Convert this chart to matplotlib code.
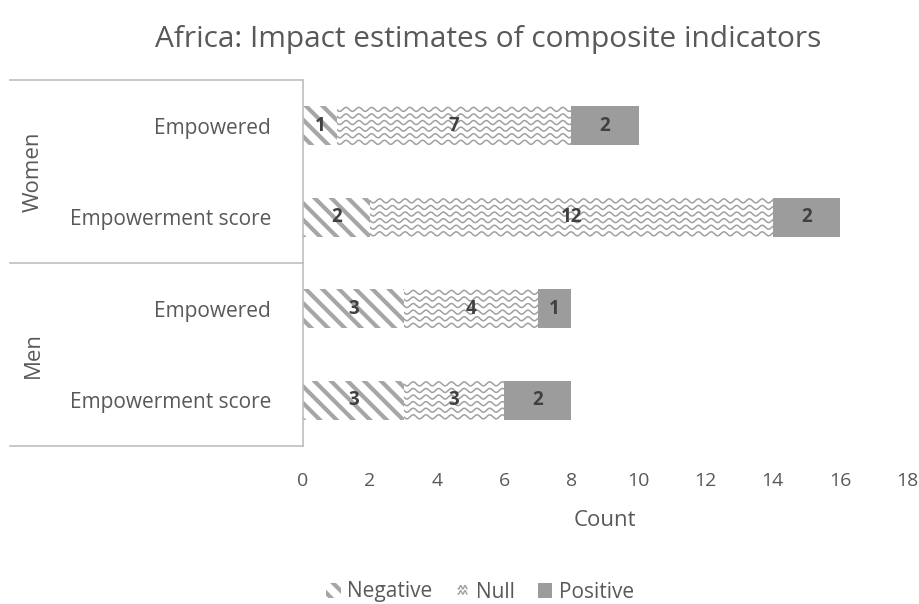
import numpy as np
import matplotlib
matplotlib.use("Agg")
import matplotlib.pyplot as plt
from matplotlib import transforms
from matplotlib.patches import Patch
from matplotlib.lines import Line2D
from matplotlib.legend_handler import HandlerBase

plt.rcParams['font.family'] = ['Open Sans', 'DejaVu Sans']
plt.rcParams['hatch.linewidth'] = 3.0

# Data
groups = ["Women", "Men"]
indicators = ["Empowered", "Empowerment score", "Empowered", "Empowerment score"]
negative = [1, 2, 3, 3]
null = [7, 12, 4, 3]
positive = [2, 2, 1, 2]
x_ticks = [0, 2, 4, 6, 8, 10, 12, 14, 16, 18]

text_color = '#595959'
line_grey = '#bfbfbf'
hatch_grey = '#a6a6a6'
wave_grey = '#a0a0a0'
pos_grey = '#9c9c9c'
bar_h = 0.43


def draw_waves(ax, rect, period=0.38, amp=0.022, gap=0.072):
    # wavy "Null" fill: sine lines clipped to the bar rectangle
    x0, y0 = rect.get_x(), rect.get_y()
    w, h = rect.get_width(), rect.get_height()
    xs = np.linspace(x0 - period, x0 + w + period, 400)
    for yy in np.arange(y0 + gap / 2, y0 + h, gap):
        ln, = ax.plot(xs, yy + amp * np.sin(2 * np.pi * (xs - x0) / period),
                      color=wave_grey, lw=1.1, solid_capstyle='butt')
        ln.set_clip_path(rect)


class WaveHandler(HandlerBase):
    def create_artists(self, legend, orig_handle, xdescent, ydescent,
                       width, height, fontsize, trans):
        arts = []
        xs = np.linspace(0, width * 0.6, 30) + width * 0.2 - xdescent
        for k in (0.35, 0.7):
            ys = height * k + height * 0.12 * np.sin(xs / (width * 0.3) * 2 * np.pi) - ydescent
            arts.append(Line2D(xs, ys, color=wave_grey, lw=1.0, transform=trans))
        return arts


fig = plt.figure(figsize=(9.2, 6.04), dpi=100)
ax = fig.add_axes([303 / 920, 1 - 446 / 604, 604 / 920, 366 / 604])

ypos = np.arange(len(indicators))
neg_bars = ax.barh(ypos, negative, height=bar_h, color='white',
                   edgecolor=hatch_grey, hatch='\\\\', linewidth=0)
null_left = np.array(negative)
null_bars = ax.barh(ypos, null, left=null_left, height=bar_h, color='white', linewidth=0)
pos_left = null_left + np.array(null)
pos_bars = ax.barh(ypos, positive, left=pos_left, height=bar_h, color=pos_grey, linewidth=0)

for rect in null_bars:
    draw_waves(ax, rect)

# value labels
for bars, vals in ((neg_bars, negative), (null_bars, null), (pos_bars, positive)):
    for rect, v in zip(bars, vals):
        ax.text(rect.get_x() + rect.get_width() / 2, rect.get_y() + rect.get_height() / 2,
                str(v), ha='center', va='center', fontsize=13.5, fontweight='bold',
                color='#404040', zorder=5)

ax.set_ylim(len(indicators) - 0.5, -0.5)
ax.set_xlim(0, 18)
ax.set_xticks(x_ticks)
ax.set_xticklabels([str(t) for t in x_ticks], fontsize=14, color=text_color)
ax.set_yticks(ypos)
ax.set_yticklabels(indicators, fontsize=15, color=text_color)
ax.tick_params(axis='both', length=0)
ax.tick_params(axis='y', pad=23)
ax.tick_params(axis='x', pad=19)
for s in ['top', 'right', 'bottom']:
    ax.spines[s].set_visible(False)
ax.spines['left'].set_color(line_grey)
ax.spines['left'].set_linewidth(1.2)

ax.set_xlabel("Count", fontsize=16, color=text_color, labelpad=14)

# group box on the left of the category labels
blend = transforms.blended_transform_factory(fig.transFigure, ax.transData)
for yb in (-0.5, 1.5, 3.5):
    ax.plot([10 / 920, 303 / 920], [yb, yb], color=line_grey, lw=1.2,
            transform=blend, clip_on=False)
for i, g in enumerate(groups):
    ax.text(33 / 920, 2 * i + 0.5, g, rotation=90, ha='center', va='center',
            fontsize=16, color=text_color, transform=blend)

fig.text(488 / 920, 1 - 40 / 604, "Africa: Impact estimates of composite indicators",
         ha='center', va='center', fontsize=21.5, color=text_color)

handles = [Patch(facecolor='white', edgecolor=hatch_grey, hatch='\\\\', linewidth=0),
           Patch(facecolor='white', linewidth=0),
           Patch(facecolor=pos_grey, linewidth=0)]
fig.legend(handles, ["Negative", "Null", "Positive"], loc='center',
           bbox_to_anchor=(480 / 920, 1 - 592 / 604), ncol=3, frameon=False,
           fontsize=15, labelcolor=text_color, handlelength=0.7, handleheight=0.7,
           handletextpad=0.3, columnspacing=1.1,
           handler_map={handles[1]: WaveHandler()})

fig.savefig("out.png", dpi=100, facecolor='white')
